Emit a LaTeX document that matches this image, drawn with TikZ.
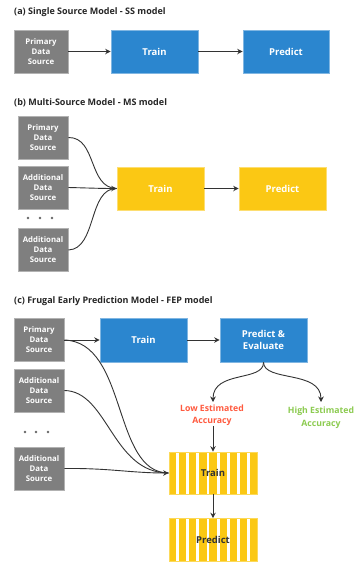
\documentclass[tikz,border=0pt]{standalone}
\usepackage{fontspec}
\setmainfont{Open Sans}
\usetikzlibrary{arrows.meta}
\definecolor{grayc}{HTML}{7F7F7F}
\definecolor{bluec}{HTML}{2B86CF}
\definecolor{yellowc}{HTML}{FBC814}
\definecolor{redc}{HTML}{FF5A3F}
\definecolor{greenc}{HTML}{8CCB50}
\definecolor{arrc}{HTML}{333333}
\tikzset{
  src/.style={fill=grayc, draw=grayc!60!white, line width=0.6pt, text=white, font=\bfseries\fontsize{7.8}{10}\selectfont, align=center, inner sep=0pt, minimum width=50pt, minimum height=43pt},
  bluebox/.style={fill=bluec, draw=bluec!60!white, line width=0.6pt, text=white, font=\bfseries\fontsize{9.5}{11.5}\selectfont, align=center, inner sep=0pt, minimum width=87pt, minimum height=43pt},
  yellowbox/.style={fill=yellowc, draw=yellowc!60!white, line width=0.6pt, text=white, font=\bfseries\fontsize{9.5}{11.5}\selectfont, align=center, inner sep=0pt, minimum width=87pt, minimum height=43pt},
  stripebox/.style={fill=white, draw=yellowc!70!white, line width=0.6pt, text=arrc, font=\bfseries\fontsize{9.5}{11.5}\selectfont, align=center, inner sep=0pt, minimum width=88pt, minimum height=43pt,
    path picture={\foreach \i in {0,...,8} \fill[yellowc] ([xshift=\i*10.1pt]path picture bounding box.south west) rectangle ++(7.2pt,50pt);}},
  title/.style={anchor=west, font=\bfseries\fontsize{9}{10}\selectfont, text=black!85, inner sep=0pt},
  conn/.style={draw=arrc, line width=0.9pt},
  arr/.style={conn, -{Stealth[length=5.5pt,width=5.5pt]}},
  dot/.style={circle, fill=black!60, inner sep=0pt, minimum size=2.8pt},
  lbl/.style={font=\bfseries\fontsize{8.7}{12.5}\selectfont, align=center, inner sep=0pt}
}
\begin{document}
\begin{tikzpicture}[x=1pt,y=-1pt]
\useasboundingbox[fill=white] (0,0) rectangle (359,563);
% (a)
\node[title] (ta0) at (14,12) {(a) Single Source Model - SS model};
\node[src, minimum width=54pt] (pa) at (41,51.5) {Primary\\Data\\Source};
\node[bluebox] (tra) at (154.5,51.5) {Train};
\node[bluebox, minimum width=86pt] (pra) at (286,51.5) {Predict};
\draw[arr] (pa) -- (tra);
\draw[arr] (tra) -- (pra);
% (b)
\node[title] (tb0) at (14,103) {(b) Multi-Source Model - MS model};
\node[src] (pb1) at (43,137.5) {Primary\\Data\\Source};
\node[src] (pb2) at (43,187.5) {Additional\\Data\\Source};
\node[src] (pb3) at (43,250) {Additional\\Data\\Source};
\node[dot] (db1) at (28,218) {};
\node[dot] (db2) at (40,218) {};
\node[dot] (db3) at (52,218) {};
\node[yellowbox] (trb) at (160.5,188.5) {Train};
\node[yellowbox] (prb) at (282.5,188.5) {Predict};
\draw[conn] (pb1.east) .. controls (97,137) and (88,188) .. (trb.west);
\draw[conn] (pb3.east) .. controls (97,249) and (88,188) .. (trb.west);
\draw[arr] (pb2.east) .. controls (90,188) and (100,188.5) .. (trb.west);
\draw[arr] (trb) -- (prb);
% (c)
\node[title] (tc0) at (14,301) {(c) Frugal Early Prediction Model - FEP model};
\node[src] (pc1) at (39,340) {Primary\\Data\\Source};
\node[src] (pc2) at (39,390.5) {Additional\\Data\\Source};
\node[src] (pc3) at (39,468.5) {Additional\\Data\\Source};
\node[dot] (dc1) at (25,432) {};
\node[dot] (dc2) at (36,432) {};
\node[dot] (dc3) at (48,432) {};
\node[bluebox, minimum height=44pt] (trc) at (143.5,340) {Train};
\node[bluebox, minimum height=44pt] (pec) at (263.5,340) {Predict \&\\Evaluate};
\node[lbl, text=redc] (low) at (212,415) {Low Estimated\\Accuracy};
\node[lbl, text=greenc] (high) at (321,417.5) {High Estimated\\Accuracy};
\node[stripebox, minimum height=42pt] (tsc) at (213,473) {Train};
\node[stripebox] (psc) at (213,540) {Predict};
\draw[arr] (pc1.east) -- (trc.west);
\draw[arr] (trc) -- (pec);
\coordinate (lowtip) at (213,402);
\coordinate (hightip) at (321,402);
\draw[arr] (pec.south) .. controls (264,382) and (213,370) .. (lowtip);
\draw[arr] (pec.south) .. controls (264,382) and (321,370) .. (hightip);
\draw[conn] (pc1.east) .. controls (128,342) and (112,473) .. (tsc.west);
\draw[conn] (pc2.east) .. controls (108,391) and (112,473) .. (tsc.west);
\draw[arr] (pc3.east) .. controls (110,468) and (130,473) .. (tsc.west);
\draw[arr] (low.south -| tsc.north) -- (tsc.north);
\draw[arr] (tsc) -- (psc);
\end{tikzpicture}
\end{document}
